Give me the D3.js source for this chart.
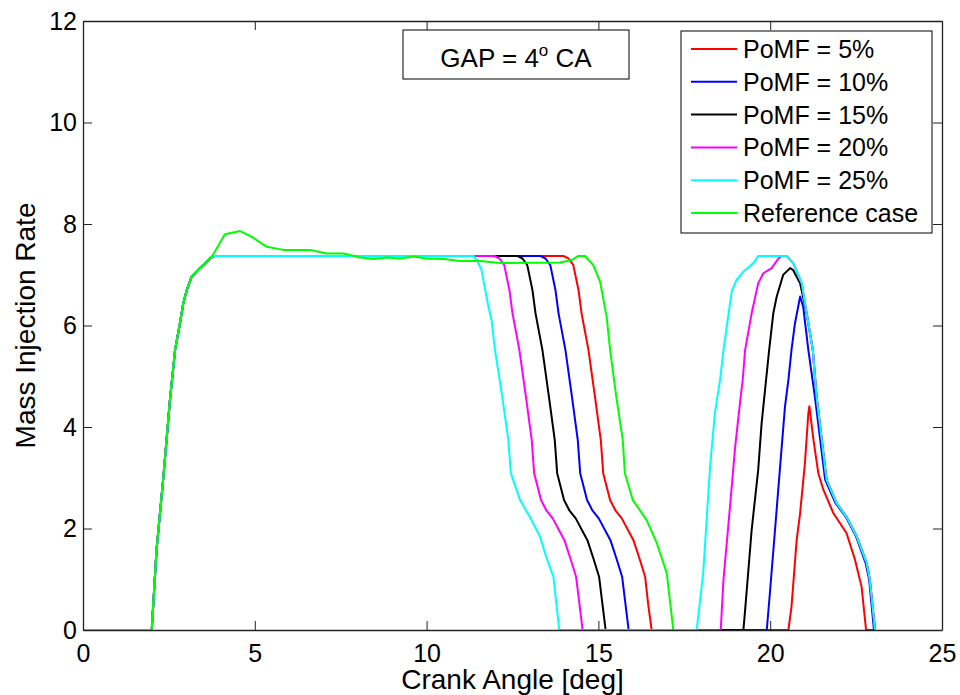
<!DOCTYPE html>
<html>
<head>
<meta charset="utf-8">
<script src="https://cdn.jsdelivr.net/npm/d3@7"></script>
<style>
  body { margin: 0; background: #fff; }
  svg { font-family: Arial, "Liberation Sans", sans-serif; }
</style>
</head>
<body>
<svg id="chart" width="960" height="695"></svg>
<script>
var xTicks = [0, 5, 10, 15, 20, 25];
var yTicks = [0, 2, 4, 6, 8, 10, 12];

var seriesNames = ["PoMF = 5%", "PoMF = 10%", "PoMF = 15%", "PoMF = 20%", "PoMF = 25%", "Reference case"];
var seriesColors = ["#ff0000", "#0000ff", "#000000", "#ff00ff", "#00ffff", "#00ff00"];

// shared start of the main injection (all PoMF cases)
var riseStart = [[0, 0], [2.0, 0], [2.14, 1.58], [2.34, 3.02], [2.53, 4.53], [2.68, 5.52], [2.82, 6.04], [2.92, 6.44],
  [3.02, 6.7], [3.16, 6.96], [3.4, 7.13], [3.65, 7.29], [3.8, 7.37]];

var pomf5 = riseStart.concat([[13.98, 7.37], [14.13, 7.32], [14.27, 7.19], [14.42, 6.7], [14.51, 6.24], [14.71, 5.52],
  [14.9, 4.6], [15.07, 3.74], [15.14, 3.09], [15.34, 2.56], [15.5, 2.35], [15.68, 2.2], [16.02, 1.77], [16.2, 1.4],
  [16.36, 1.05], [16.45, 0.5], [16.55, 0],
  [20.53, 0], [20.62, 0.46], [20.77, 1.77], [20.87, 2.3], [21.01, 3.28], [21.11, 4.27], [21.14, 4.41], [21.26, 3.74],
  [21.4, 3.09], [21.55, 2.76], [21.84, 2.3], [22.22, 1.91], [22.47, 1.38], [22.66, 0.85], [22.79, 0], [23.05, 0]]);

var pomf10 = riseStart.concat([[13.31, 7.37], [13.46, 7.32], [13.6, 7.19], [13.75, 6.7], [13.84, 6.24], [14.04, 5.52],
  [14.23, 4.6], [14.4, 3.74], [14.47, 3.09], [14.67, 2.56], [14.83, 2.35], [15.01, 2.2], [15.35, 1.77], [15.53, 1.4],
  [15.69, 1.05], [15.79, 0.5], [15.88, 0],
  [19.9, 0], [19.99, 0.72], [20.14, 1.97], [20.28, 3.15], [20.43, 4.4], [20.53, 4.93], [20.62, 5.52], [20.72, 6.04],
  [20.87, 6.57], [20.96, 6.37], [21.11, 5.52], [21.3, 4.6], [21.6, 2.96], [21.9, 2.5], [22.2, 2.23], [22.5, 1.84],
  [22.78, 1.31], [22.88, 0.99], [23.02, 0], [23.05, 0]]);

var pomf15 = riseStart.concat([[12.64, 7.37], [12.79, 7.32], [12.93, 7.19], [13.08, 6.7], [13.17, 6.24], [13.37, 5.52],
  [13.56, 4.6], [13.73, 3.74], [13.8, 3.09], [14.0, 2.56], [14.16, 2.35], [14.34, 2.2], [14.68, 1.77], [14.86, 1.4],
  [15.02, 1.05], [15.12, 0.5], [15.21, 0],
  [19.22, 0], [19.27, 0.39], [19.46, 1.97], [19.65, 3.15], [19.75, 4.07], [19.88, 4.93], [19.97, 5.52], [20.09, 6.24],
  [20.19, 6.57], [20.38, 7.0], [20.58, 7.13], [20.67, 7.09], [20.87, 6.83], [21.06, 6.24], [21.24, 5.52], [21.35, 4.6],
  [21.64, 2.96], [21.93, 2.5], [22.22, 2.23], [22.52, 1.84], [22.81, 1.31], [22.9, 0.99], [23.05, 0]]);

var pomf20 = riseStart.concat([[11.97, 7.37], [12.12, 7.32], [12.26, 7.19], [12.41, 6.7], [12.5, 6.24], [12.7, 5.52],
  [12.89, 4.6], [13.06, 3.74], [13.13, 3.09], [13.33, 2.56], [13.49, 2.35], [13.67, 2.2], [14.01, 1.77], [14.19, 1.4],
  [14.35, 1.05], [14.45, 0.5], [14.54, 0],
  [18.56, 0], [18.64, 0.99], [18.83, 2.43], [18.98, 3.61], [19.13, 4.53], [19.2, 4.93], [19.27, 5.52], [19.46, 6.24],
  [19.65, 6.83], [19.8, 7.03], [20.04, 7.13], [20.24, 7.32], [20.33, 7.37], [20.48, 7.37], [20.67, 7.23], [20.92, 6.83],
  [21.06, 6.24], [21.24, 5.52], [21.35, 4.6], [21.64, 2.96], [21.93, 2.5], [22.22, 2.23], [22.52, 1.84], [22.81, 1.31],
  [22.9, 0.99], [23.05, 0]]);

var pomf25 = riseStart.concat([[11.36, 7.37], [11.46, 7.29], [11.6, 7.09], [11.65, 6.9], [11.8, 6.37], [11.89, 6.11],
  [11.99, 5.52], [12.2, 4.6], [12.38, 3.74], [12.45, 3.09], [12.72, 2.56], [13.0, 2.23], [13.3, 1.84], [13.5, 1.4],
  [13.69, 1.05], [13.78, 0.5], [13.86, 0],
  [17.86, 0], [18.05, 1.12], [18.25, 3.22], [18.39, 4.27], [18.54, 4.93], [18.64, 5.52], [18.88, 6.67], [19.02, 6.9],
  [19.22, 7.06], [19.51, 7.23], [19.65, 7.37], [20.48, 7.37], [20.67, 7.23], [20.92, 6.83], [21.06, 6.24], [21.24, 5.52],
  [21.35, 4.6], [21.64, 2.96], [21.93, 2.5], [22.22, 2.23], [22.52, 1.84], [22.81, 1.31], [22.9, 0.99], [23.05, 0]]);

var referenceCase = [[2.0, 0], [2.14, 1.58], [2.34, 3.02], [2.53, 4.53], [2.68, 5.52], [2.82, 6.04], [2.92, 6.44],
  [3.02, 6.7], [3.16, 6.96], [3.4, 7.13], [3.65, 7.29], [3.78, 7.39], [4.13, 7.8], [4.57, 7.86], [4.9, 7.75],
  [5.35, 7.55], [5.82, 7.49], [6.61, 7.49], [7.09, 7.42], [7.58, 7.42], [8.06, 7.34], [8.45, 7.31], [8.84, 7.34],
  [9.23, 7.32], [9.61, 7.36], [10.0, 7.32], [10.49, 7.31], [10.97, 7.27], [11.55, 7.27], [12.14, 7.23], [13.88, 7.24],
  [14.22, 7.29], [14.42, 7.37], [14.61, 7.37], [14.85, 7.19], [15.05, 6.86], [15.24, 6.17], [15.34, 5.52], [15.52, 4.6],
  [15.71, 3.74], [15.77, 3.09], [16.0, 2.56], [16.4, 2.17], [16.7, 1.71], [16.99, 1.12], [17.18, 0]];

var seriesData = [pomf5, pomf10, pomf15, pomf20, pomf25, referenceCase];

var svg = d3.select("#chart");
var plotLeft = 83, plotRight = 942, plotTop = 21, plotBottom = 630;

var x = d3.scaleLinear().domain([0, 25]).range([plotLeft, plotRight]);
var y = d3.scaleLinear().domain([0, 12]).range([plotBottom, plotTop]);

svg.append("rect").attr("x", 0).attr("y", 0).attr("width", 960).attr("height", 695).attr("fill", "#fff");

// lines, drawn in legend order so later ones sit on top
var line = d3.line().x(function(d) { return x(d[0]); }).y(function(d) { return y(d[1]); });
var lines = svg.append("g");
seriesData.forEach(function(data, i) {
  lines.append("path")
    .datum(data)
    .attr("d", line)
    .attr("fill", "none")
    .attr("stroke", seriesColors[i])
    .attr("stroke-width", 2)
    .attr("stroke-linejoin", "round");
});

// axes, MATLAB style: ticks inside, on all four sides
var tickLen = 9;
var xBottom = svg.append("g").attr("transform", "translate(0," + plotBottom + ")")
  .call(d3.axisBottom(x).tickValues(xTicks).tickSizeInner(-tickLen).tickSizeOuter(0).tickPadding(14).tickFormat(d3.format("d")));
var xTop = svg.append("g").attr("transform", "translate(0," + plotTop + ")")
  .call(d3.axisTop(x).tickValues(xTicks).tickSizeInner(-tickLen).tickSizeOuter(0).tickFormat(""));
var yLeft = svg.append("g").attr("transform", "translate(" + plotLeft + ",0)")
  .call(d3.axisLeft(y).tickValues(yTicks).tickSizeInner(-tickLen).tickSizeOuter(0).tickPadding(6).tickFormat(d3.format("d")));
var yRight = svg.append("g").attr("transform", "translate(" + plotRight + ",0)")
  .call(d3.axisRight(y).tickValues(yTicks).tickSizeInner(-tickLen).tickSizeOuter(0).tickFormat(""));

[xBottom, xTop, yLeft, yRight].forEach(function(a) {
  a.select(".domain").attr("stroke", "#222").attr("stroke-width", 1.3);
  a.selectAll(".tick line").attr("stroke", "#222");
  a.selectAll(".tick text").attr("fill", "#000").style("font-size", "25px").style("font-family", "Arial, 'Liberation Sans', sans-serif");
});

// axis labels
svg.append("text")
  .attr("x", (plotLeft + plotRight) / 2).attr("y", 689)
  .attr("text-anchor", "middle")
  .style("font-size", "28px")
  .text("Crank Angle [deg]");

svg.append("text")
  .attr("transform", "translate(35," + (plotTop + plotBottom) / 2 + ") rotate(-90)")
  .attr("text-anchor", "middle")
  .style("font-size", "28px")
  .text("Mass Injection Rate");

// annotation box
svg.append("rect")
  .attr("x", 403).attr("y", 30).attr("width", 226).attr("height", 49)
  .attr("fill", "#fff").attr("stroke", "#000").attr("stroke-width", 1);
var gap = svg.append("text")
  .attr("x", 516).attr("y", 67)
  .attr("text-anchor", "middle")
  .style("font-size", "26px");
gap.append("tspan").text("GAP = 4");
gap.append("tspan").attr("dy", -11).style("font-size", "17px").text("o");
gap.append("tspan").attr("dy", 11).text(" CA");

// legend
var legend = svg.append("g");
legend.append("rect")
  .attr("x", 681).attr("y", 31).attr("width", 251).attr("height", 202)
  .attr("fill", "#fff").attr("stroke", "#000").attr("stroke-width", 1);
seriesNames.forEach(function(name, i) {
  var ly = 49 + i * 32.8;
  legend.append("line")
    .attr("x1", 691).attr("x2", 737).attr("y1", ly).attr("y2", ly)
    .attr("stroke", seriesColors[i]).attr("stroke-width", 2);
  legend.append("text")
    .attr("x", 743).attr("y", ly)
    .attr("dy", "0.36em")
    .style("font-size", "25px")
    .text(name);
});
</script>
</body>
</html>
